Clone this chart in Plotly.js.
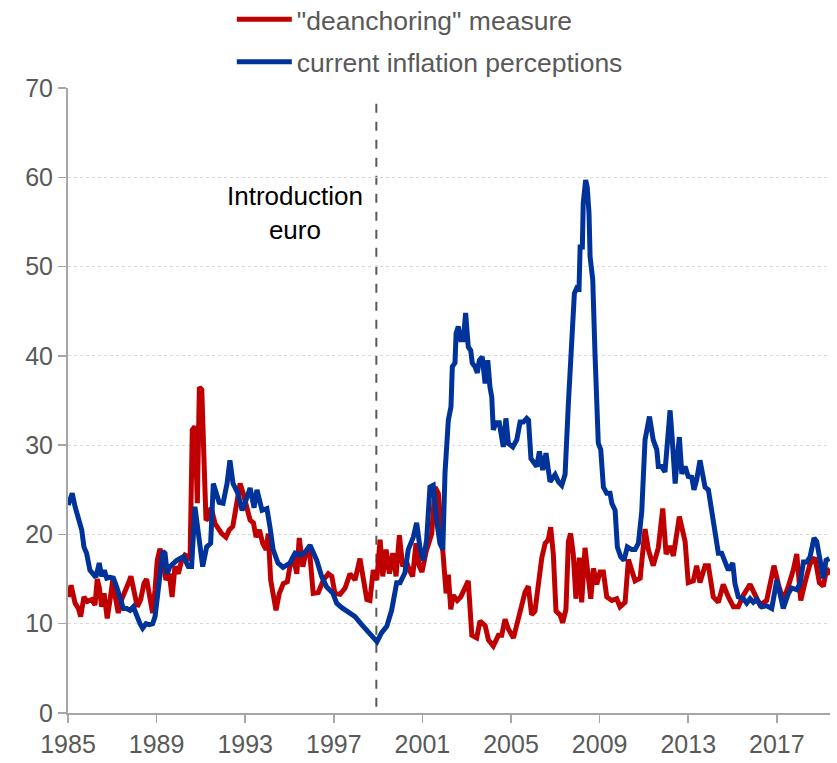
<!DOCTYPE html>
<html>
<head>
<meta charset="utf-8">
<script src="https://cdn.plot.ly/plotly-3.0.1.min.js"></script>
<style>
html,body{margin:0;padding:0;background:#fff;}
#chart{width:837px;height:763px;}
</style>
</head>
<body>
<div id="chart"></div>
<script>
// Decimal-year dates and values
var deanchorYears = [1985.01,1985.14,1985.32,1985.47,1985.57,1985.72,1985.87,1986.07,1986.22,1986.32,1986.41,1986.52,1986.63,1986.77,1986.90,1987.02,1987.12,1987.27,1987.42,1987.57,1987.72,1987.84,1987.98,1988.13,1988.28,1988.43,1988.55,1988.67,1988.82,1988.93,1989.03,1989.15,1989.28,1989.42,1989.57,1989.70,1989.83,1989.98,1990.13,1990.28,1990.43,1990.51,1990.61,1990.73,1990.84,1990.93,1991.04,1991.14,1991.23,1991.33,1991.46,1991.64,1991.79,1991.94,1992.13,1992.28,1992.44,1992.54,1992.64,1992.77,1992.91,1993.07,1993.22,1993.37,1993.49,1993.64,1993.79,1993.94,1994.04,1994.15,1994.27,1994.39,1994.54,1994.72,1994.90,1995.02,1995.17,1995.33,1995.44,1995.60,1995.74,1995.89,1996.07,1996.30,1996.53,1996.75,1996.91,1997.05,1997.28,1997.51,1997.73,1997.96,1998.18,1998.33,1998.49,1998.63,1998.78,1998.94,1999.09,1999.21,1999.36,1999.51,1999.66,1999.81,1999.96,2000.11,2000.26,2000.41,2000.56,2000.71,2000.85,2000.98,2001.16,2001.42,2001.57,2001.72,2001.87,2001.98,2002.07,2002.17,2002.28,2002.39,2002.57,2002.73,2002.92,2003.07,2003.23,2003.45,2003.60,2003.83,2003.98,2004.20,2004.43,2004.58,2004.73,2004.88,2005.11,2005.33,2005.48,2005.63,2005.78,2005.93,2006.08,2006.23,2006.39,2006.54,2006.68,2006.79,2006.91,2007.03,2007.21,2007.33,2007.48,2007.59,2007.69,2007.81,2007.93,2008.08,2008.19,2008.34,2008.44,2008.60,2008.72,2008.87,2009.02,2009.17,2009.32,2009.55,2009.77,2009.92,2010.15,2010.30,2010.45,2010.60,2010.83,2011.05,2011.20,2011.42,2011.65,2011.85,2012.00,2012.18,2012.33,2012.60,2012.86,2013.00,2013.23,2013.38,2013.53,2013.76,2013.91,2014.13,2014.36,2014.58,2014.81,2015.04,2015.26,2015.49,2015.79,2016.02,2016.24,2016.54,2016.87,2017.07,2017.29,2017.52,2017.74,2017.90,2018.08,2018.27,2018.50,2018.72,2018.92,2019.10,2019.25,2019.40];
var deanchorValues = [13.0,14.3,12.3,11.7,10.8,13.0,12.5,12.7,12.1,15.0,14.1,11.9,13.4,10.6,12.7,14.9,13.2,11.2,12.7,13.8,14.5,15.3,13.4,11.9,12.7,14.5,15.0,13.4,11.2,13.8,17.1,18.4,17.1,14.9,15.6,13.0,16.4,15.6,17.1,17.7,17.5,17.1,31.7,32.1,23.5,36.5,36.2,28.3,21.6,21.8,23.0,21.2,20.5,20.1,19.7,20.5,20.9,22.4,24.6,25.7,24.6,22.7,21.6,21.3,19.7,20.5,19.0,18.3,20.1,14.9,12.7,11.5,13.4,14.5,14.7,16.4,17.5,15.6,19.6,16.4,17.9,18.5,13.4,13.5,14.9,15.6,15.3,13.4,13.3,14.0,15.6,14.9,17.3,14.9,12.7,12.6,16.0,14.9,19.4,15.3,18.3,15.6,17.9,15.3,19.9,16.4,17.1,16.0,15.3,19.0,16.5,15.8,18.0,20.1,25.3,24.6,20.1,15.6,13.4,15.5,11.6,13.2,12.6,13.0,13.9,14.8,8.7,8.4,10.3,9.8,8.2,7.5,8.7,8.7,10.5,9.4,8.4,10.5,11.9,13.5,14.2,11.0,11.4,14.2,17.4,19.0,19.4,20.8,17.8,11.4,11.0,10.1,11.6,19.2,20.1,17.8,12.8,17.4,12.4,18.5,16.0,12.8,16.2,14.4,15.8,15.8,13.0,12.6,12.8,11.9,12.4,17.2,16.0,14.8,15.1,20.6,18.3,16.5,18.5,22.9,17.8,18.7,17.6,22.0,19.2,14.6,14.8,16.5,14.6,16.5,16.5,13.0,12.4,14.4,13.0,11.9,11.9,13.2,14.4,13.2,12.1,12.6,16.5,14.4,12.6,14.2,16.0,17.8,12.6,14.6,16.7,17.4,14.6,14.2,16.2,15.5];

var perceptionYears = [1985.01,1985.19,1985.32,1985.47,1985.62,1985.72,1985.84,1985.99,1986.14,1986.26,1986.41,1986.52,1986.64,1986.75,1986.90,1987.05,1987.20,1987.35,1987.50,1987.65,1987.80,1987.95,1988.10,1988.25,1988.37,1988.52,1988.67,1988.82,1988.93,1989.03,1989.15,1989.28,1989.38,1989.48,1989.60,1989.75,1989.91,1990.06,1990.21,1990.43,1990.58,1990.73,1990.88,1991.08,1991.26,1991.44,1991.56,1991.82,1992.00,1992.18,1992.31,1992.45,1992.67,1992.86,1992.99,1993.22,1993.40,1993.53,1993.76,1993.98,1994.12,1994.26,1994.48,1994.71,1995.02,1995.25,1995.47,1995.70,1995.93,1996.23,1996.45,1996.68,1996.96,1997.13,1997.36,1997.64,1997.96,1998.26,1998.54,1998.81,1998.95,1999.16,1999.39,1999.61,1999.84,1999.99,2000.21,2000.36,2000.59,2000.74,2000.89,2001.04,2001.19,2001.34,2001.49,2001.64,2001.79,2001.92,2002.02,2002.17,2002.29,2002.35,2002.47,2002.52,2002.62,2002.73,2002.85,2002.95,2003.07,2003.18,2003.25,2003.37,2003.48,2003.57,2003.70,2003.83,2003.95,2004.05,2004.13,2004.20,2004.32,2004.47,2004.58,2004.65,2004.77,2004.88,2005.08,2005.26,2005.41,2005.56,2005.71,2005.79,2005.90,2006.16,2006.28,2006.43,2006.58,2006.76,2006.99,2007.14,2007.29,2007.44,2007.59,2007.74,2007.86,2007.97,2008.07,2008.12,2008.22,2008.26,2008.37,2008.44,2008.52,2008.57,2008.69,2008.79,2008.94,2009.05,2009.17,2009.32,2009.47,2009.55,2009.70,2009.80,2009.95,2010.10,2010.25,2010.45,2010.60,2010.75,2010.90,2011.05,2011.25,2011.42,2011.58,2011.65,2011.80,2011.95,2012.06,2012.18,2012.28,2012.41,2012.51,2012.60,2012.71,2012.86,2013.00,2013.16,2013.26,2013.38,2013.53,2013.65,2013.76,2013.91,2014.06,2014.21,2014.36,2014.51,2014.66,2014.81,2015.01,2015.11,2015.26,2015.49,2015.64,2015.79,2015.94,2016.09,2016.32,2016.54,2016.77,2017.00,2017.14,2017.29,2017.52,2017.67,2017.90,2018.05,2018.20,2018.35,2018.50,2018.68,2018.80,2018.95,2019.10,2019.22,2019.37];
var perceptionValues = [23.3,24.6,23.1,22.0,20.5,18.6,17.9,16.0,15.6,15.2,16.8,15.3,16.0,15.1,15.2,15.1,14.1,12.7,11.7,11.7,11.5,11.9,10.8,10.0,9.5,10.0,9.9,10.0,10.8,12.7,15.6,18.1,17.9,15.6,16.4,16.8,17.1,17.3,17.5,16.4,16.4,23.1,20.1,16.4,18.6,19.0,25.7,23.6,23.5,25.7,28.3,25.7,24.6,22.7,23.5,25.2,23.0,25.0,22.7,22.9,20.8,18.3,16.8,16.3,16.8,17.9,17.7,18.0,18.8,17.1,15.3,14.1,13.4,12.3,11.8,11.3,10.8,9.9,9.1,8.4,8.0,9.0,9.7,11.5,14.6,14.6,15.7,18.3,19.7,21.3,18.5,17.1,19.4,25.3,25.5,21.6,19.0,18.3,26.9,32.8,34.3,38.8,39.2,42.5,43.3,41.8,41.8,44.8,41.0,40.6,39.2,38.8,38.1,39.5,39.9,36.9,39.5,36.5,35.4,31.7,32.5,32.5,30.2,29.8,33.0,30.2,29.8,30.6,32.6,32.6,33.0,32.8,28.5,27.6,29.3,27.2,29.1,25.9,26.7,25.9,25.5,26.7,34.7,42.9,47.0,47.6,47.5,52.2,52.2,57.1,59.7,58.9,56.0,51.1,48.5,40.3,30.2,29.5,25.3,24.6,24.6,23.5,22.7,18.6,17.5,17.1,18.6,18.3,18.3,19.0,22.5,30.6,33.2,30.6,29.5,27.6,27.6,27.0,30.6,33.9,30.6,25.7,28.7,30.9,26.8,27.6,26.5,26.4,25.0,26.1,28.3,26.8,25.3,25.0,22.4,20.1,17.9,17.9,17.1,16.0,16.8,14.5,13.0,12.8,12.3,12.8,12.4,12.7,11.9,12.0,11.7,14.9,13.4,11.7,13.4,14.0,13.8,14.5,16.9,16.9,17.5,19.6,19.2,17.1,15.1,17.1,17.3];

var tickYears = [1985,1989,1993,1997,2001,2005,2009,2013,2017];
var tickLabels = ["1985","1989","1993","1997","2001","2005","2009","2013","2017"];
var euroYear = 1998.92;
var seriesNames = ['"deanchoring" measure', 'current inflation perceptions'];

var FONT = 'Arial, "Liberation Sans", sans-serif';

var traces = [
  {x: deanchorYears, y: deanchorValues, name: seriesNames[0], type: 'scatter', mode: 'lines',
   legendgroup: 'a', line: {color: '#c00000', width: 5}},
  {x: perceptionYears, y: perceptionValues, name: seriesNames[1], type: 'scatter', mode: 'lines',
   legendgroup: 'b', line: {color: '#003399', width: 5}}
];

var layout = {
  width: 837, height: 763,
  margin: {l: 68, r: 7, t: 88, b: 50, autoexpand: false},
  paper_bgcolor: '#ffffff', plot_bgcolor: '#ffffff',
  font: {family: FONT, size: 26, color: '#595959'},
  showlegend: true,
  legend: {orientation: 'v', x: 0.215, y: 1.148, xanchor: 'left', yanchor: 'top',
           font: {family: FONT, size: 26.5, color: '#595959'}, itemwidth: 55,
           bgcolor: 'rgba(0,0,0,0)', tracegroupgap: 5, traceorder: 'grouped'},
  xaxis: {range: [1985, 2019.4], tickmode: 'array', tickvals: tickYears, ticktext: tickLabels,
          showgrid: false, zeroline: false, showline: true, linecolor: '#a6a6a6', linewidth: 2,
          ticks: 'outside', ticklen: 8, tickwidth: 1.5, tickcolor: '#a6a6a6',
          tickfont: {family: FONT, size: 25, color: '#595959'}, fixedrange: true},
  yaxis: {range: [0, 70], dtick: 10, tick0: 0, showgrid: true, gridcolor: '#d9d9d9', griddash: 'dot',
          gridwidth: 1, zeroline: false, showline: true, linecolor: '#a6a6a6', linewidth: 2,
          ticks: 'outside', ticklen: 8, tickwidth: 1.5, tickcolor: '#a6a6a6',
          tickfont: {family: FONT, size: 25, color: '#595959'}, fixedrange: true},
  shapes: [
    {type: 'line', xref: 'x', yref: 'y', x0: euroYear, x1: euroYear, y0: 0.7, y1: 68.7,
     line: {color: '#595959', width: 2, dash: 'dash'}, layer: 'below'}
  ],
  annotations: [
    {xref: 'x', yref: 'y', x: 1995.23, y: 56.0, text: 'Introduction<br>euro', showarrow: false,
     font: {family: FONT, size: 26, color: '#000000'}, align: 'center'}
  ]
};

Plotly.newPlot('chart', traces, layout, {displayModeBar: false, staticPlot: true});
</script>
</body>
</html>
